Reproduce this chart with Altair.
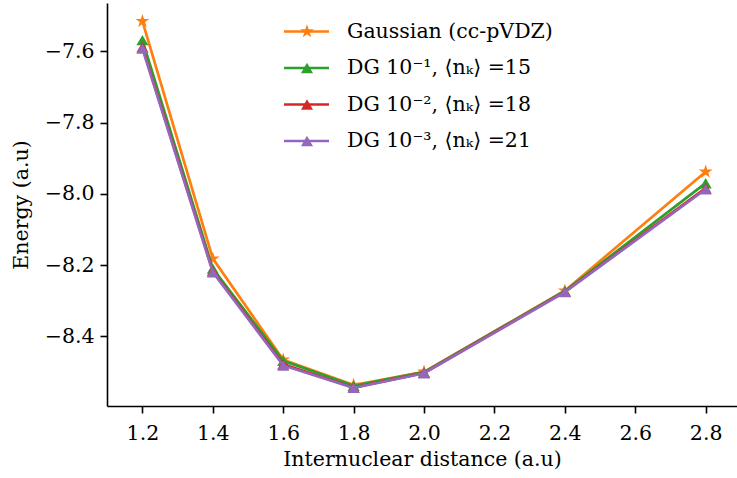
import altair as alt
import pandas as pd

# ---- data ----
distance = [1.2, 1.4, 1.6, 1.8, 2.0, 2.4, 2.8]
gaussian = [-7.515, -8.182, -8.466, -8.537, -8.500, -8.272, -7.938]
dg_1 = [-7.568, -8.210, -8.469, -8.539, -8.501, -8.273, -7.970]
dg_2 = [-7.588, -8.217, -8.479, -8.544, -8.503, -8.275, -7.984]
dg_3 = [-7.592, -8.220, -8.482, -8.545, -8.504, -8.276, -7.987]

series_labels = [
    "Gaussian (cc-pVDZ)",
    "DG 10\u207b\u00b9, \u27e8n\u2096\u27e9 =15",
    "DG 10\u207b\u00b2, \u27e8n\u2096\u27e9 =18",
    "DG 10\u207b\u00b3, \u27e8n\u2096\u27e9 =21",
]
series_values = [gaussian, dg_1, dg_2, dg_3]
colors = ["#ff7f0e", "#2ca02c", "#d62728", "#9467bd"]

STAR = ("M0,-1L0.225,-0.309L0.951,-0.309L0.363,0.118L0.588,0.809L0,0.382"
        "L-0.588,0.809L-0.363,0.118L-0.951,-0.309L-0.225,-0.309Z")
shapes = [STAR, "triangle-up", "triangle-up", "triangle-up"]
sizes = [210, 145, 145, 145]

FONT = "DejaVu Serif"
FS = 20.5

xs = alt.Scale(domain=[1.0994, 2.889], nice=False, zero=False)
ys = alt.Scale(domain=[-8.596, -7.4638], nice=False, zero=False)

xaxis = alt.Axis(values=[1.2, 1.4, 1.6, 1.8, 2.0, 2.2, 2.4, 2.6, 2.8], format=".1f",
                 title="Internuclear distance (a.u)", grid=False, labelPadding=10)
yaxis = alt.Axis(values=[-8.4, -8.2, -8.0, -7.8, -7.6], format=".1f",
                 title="Energy (a.u)", grid=False, labelPadding=6)

layers = []
for i, (lab, vals) in enumerate(zip(series_labels, series_values)):
    df = pd.DataFrame({"x": distance, "y": vals, "series": lab})
    base = alt.Chart(df).encode(
        x=alt.X("x:Q", scale=xs, axis=xaxis),
        y=alt.Y("y:Q", scale=ys, axis=yaxis),
    )
    layers.append(base.mark_line(color=colors[i], strokeWidth=2.7))
    layers.append(base.mark_point(shape=shapes[i], filled=True, size=sizes[i],
                                  color=colors[i], opacity=1))

# ---- legend (manual, matplotlib-like) ----
leg_y = [28.5, 65, 101.5, 138]
for i, lab in enumerate(series_labels):
    ldf = pd.DataFrame({"label": [lab]})
    lb = alt.Chart(ldf)
    layers.append(lb.mark_rule(color=colors[i], strokeWidth=2.7).encode(
        x=alt.value(177), x2=alt.value(222), y=alt.value(leg_y[i])))
    layers.append(lb.mark_point(shape=shapes[i], filled=True, size=sizes[i],
                                color=colors[i], opacity=1).encode(
        x=alt.value(200), y=alt.value(leg_y[i])))
    layers.append(lb.mark_text(align="left", baseline="middle", font=FONT,
                               fontSize=FS, color="#000000").encode(
        x=alt.value(240), y=alt.value(leg_y[i]), text="label:N"))

chart = alt.layer(*layers).properties(
    width=630, height=403,
    autosize=alt.AutoSizeParams(type="none"),
    padding={"left": 107, "top": 3, "right": 0, "bottom": 72},
).configure_view(stroke=None).configure_axis(
    domainColor="#000000", domainWidth=1.6, tickColor="#000000", tickWidth=1.6,
    tickSize=7, labelFont=FONT, labelFontSize=FS, labelColor="#000000",
    titleFont=FONT, titleFontSize=FS, titleColor="#000000", titleFontWeight="normal",
).configure_axisX(titlePadding=6).configure_axisY(titlePadding=13)

chart.save("out.html", embed_options={"renderer": "svg", "actions": False})
